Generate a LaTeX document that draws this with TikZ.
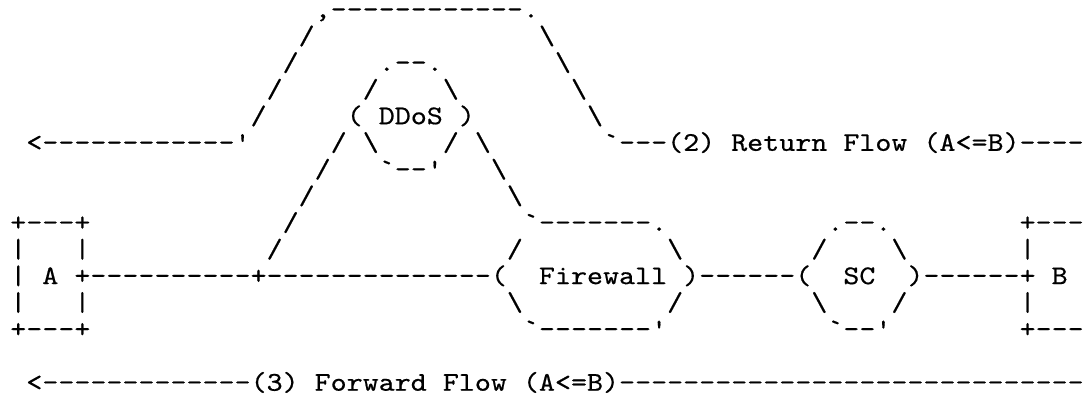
\documentclass[tikz,border=0pt]{standalone}
\usepackage{fontspec}
\usepackage{tikz}
\newfontfamily\asciifont{lmmono10-regular.otf}[FakeStretch=1.1302,FakeBold=0.5,WordSpace={1,0,0},PunctuationSpace=WordSpace]
\newcommand{\bsl}{\textbackslash}

\begin{document}
\begin{tikzpicture}[x=16.02pt, y=-26.65pt,
chr/.style={anchor=base west, inner sep=0pt, outer sep=0pt, font=\fontsize{27}{30}\asciifont}
]
\useasboundingbox (-0.642,-0.66) rectangle (67.02,14.162);
%Return path
\node[chr] (rtop)  at (19,0)  {,------------.};
\node[chr] (rl1)   at (18,1)  {/};
\node[chr] (rr1)   at (33,1)  {\bsl};
\node[chr] (rl2)   at (17,2)  {/};
\node[chr] (rr2)   at (34,2)  {\bsl};
\node[chr] (rl3)   at (16,3)  {/};
\node[chr] (rr3)   at (35,3)  {\bsl};
\node[chr] (rl4)   at (15,4)  {/};
\node[chr] (rr4)   at (36,4)  {\bsl};
\node[chr] (rback) at (1,5)   {<------------'};
\node[chr] (rflow) at (37,5)  {`---(2) Return Flow (A<=B)----};
%DDoS
\node[chr] (dn)    at (23,2)  {.--.};
\node[chr] (dnw)   at (22,3)  {/};
\node[chr] (dne)   at (27,3)  {\bsl};
\node[chr] (dw)    at (21,4)  {(};
\node[chr] (ddos)  at (23,4)  {DDoS};
\node[chr] (de)    at (28,4)  {)};
\node[chr] (dsw)   at (22,5)  {\bsl};
\node[chr] (dse)   at (27,5)  {/};
\node[chr] (ds)    at (23,6)  {`--'};
%Detour via DDoS
\node[chr] (al5)   at (20,5)  {/};
\node[chr] (al6)   at (19,6)  {/};
\node[chr] (al7)   at (18,7)  {/};
\node[chr] (al8)   at (17,8)  {/};
\node[chr] (al9)   at (16,9)  {/};
\node[chr] (ar5)   at (29,5)  {\bsl};
\node[chr] (ar6)   at (30,6)  {\bsl};
\node[chr] (ar7)   at (31,7)  {\bsl};
%Host A
\node[chr] (atop)  at (0,8)   {+---+};
\node[chr] (al)    at (0,9)   {|};
\node[chr] (ar)    at (4,9)   {|};
\node[chr] (alink) at (0,10)  {| A +----------+--------------(};
\node[chr] (bl)    at (0,11)  {|};
\node[chr] (br)    at (4,11)  {|};
\node[chr] (abot)  at (0,12)  {+---+};
%Firewall
\node[chr] (fn)    at (32,8)  {`-------.};
\node[chr] (fnw)   at (31,9)  {/};
\node[chr] (fne)   at (41,9)  {\bsl};
\node[chr] (fw)    at (33,10) {Firewall};
\node[chr] (flink) at (42,10) {)------(};
\node[chr] (fsw)   at (31,11) {\bsl};
\node[chr] (fse)   at (41,11) {/};
\node[chr] (fs)    at (32,12) {`-------'};
%SC
\node[chr] (sn)    at (51,8)  {.--.};
\node[chr] (snw)   at (50,9)  {/};
\node[chr] (sne)   at (55,9)  {\bsl};
\node[chr] (sc)    at (52,10) {SC};
\node[chr] (slink) at (56,10) {)------+ B};
\node[chr] (ssw)   at (50,11) {\bsl};
\node[chr] (sse)   at (55,11) {/};
\node[chr] (ss)    at (51,12) {`--'};
%Host B
\node[chr] (btop)  at (63,8)  {+---};
\node[chr] (bl9)   at (63,9)  {|};
\node[chr] (bl11)  at (63,11) {|};
\node[chr] (bbot)  at (63,12) {+---};
%Forward flow
\node[chr] (fflow) at (1,14)  {<-------------(3) Forward Flow (A<=B)-----------------------------};
\end{tikzpicture}
\end{document}
